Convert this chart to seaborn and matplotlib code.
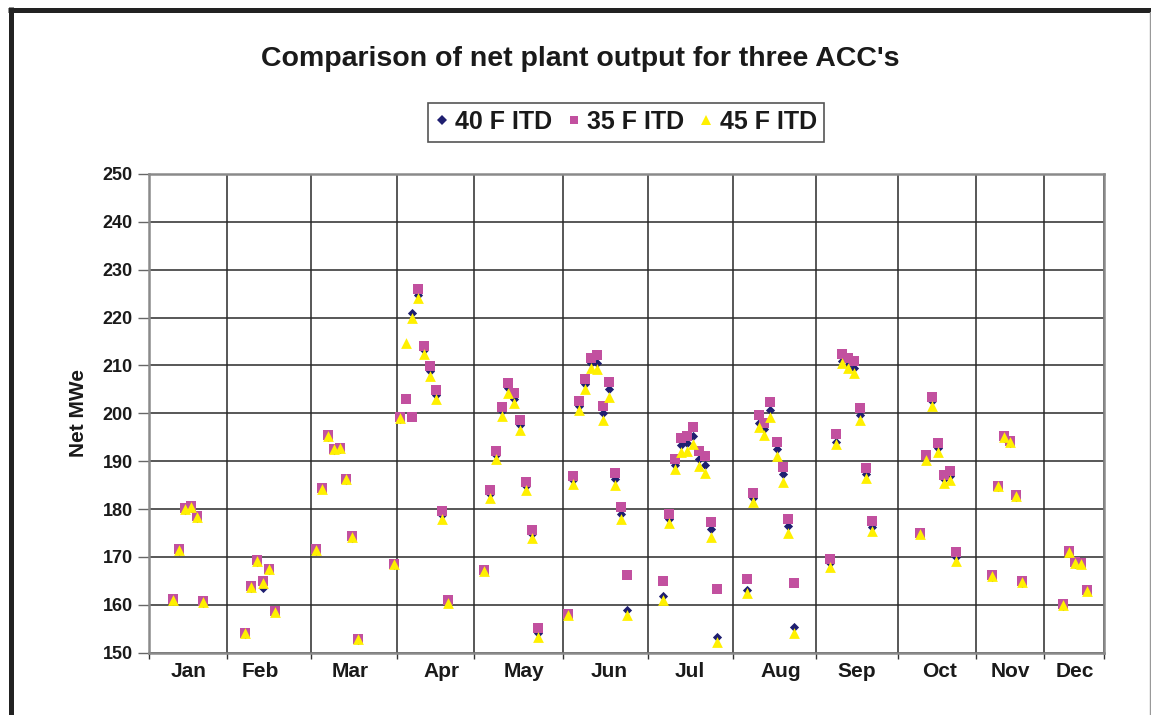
import matplotlib
matplotlib.use("Agg")
import matplotlib.pyplot as plt
import seaborn as sns
import pandas as pd
from matplotlib.lines import Line2D

sns.set_theme(style="white")
plt.rcParams['font.family'] = ['Liberation Sans', 'DejaVu Sans']
plt.rcParams['font.weight'] = 'bold'

# ---------------- data ----------------
title = "Comparison of net plant output for three ACC's"
y_label = "Net MWe"
series_names = ["40 F ITD", "35 F ITD", "45 F ITD"]
months = ["Jan", "Feb", "Mar", "Apr", "May", "Jun",
          "Jul", "Aug", "Sep", "Oct", "Nov", "Dec"]
# month boundaries and label positions, in sample-slot units
month_edges = [0, 13.0, 27.0, 41.2, 54.1, 68.9, 83.1, 97.2, 111.0,
               124.6, 137.6, 148.9, 159.0]
month_label_pos = [6.6, 18.5, 33.4, 48.6, 62.4, 76.5, 90.0, 105.2,
                   117.8, 131.5, 143.3, 154.1]
y_ticks = [150, 160, 170, 180, 190, 200, 210, 220, 230, 240, 250]

sample_pos = [
    4.0, 5.0, 6.0, 7.0, 8.0, 9.0,                               # Jan
    15.9, 16.9, 17.9, 18.9, 19.9, 20.9,                         # Feb
    27.8, 28.8, 29.8, 30.8, 31.8, 32.8, 33.8, 34.8, 40.8,       # Mar
    41.8, 42.8, 43.8, 44.8, 45.8, 46.8, 47.8, 48.8, 49.8,       # Apr
    55.7, 56.7, 57.7, 58.7, 59.7, 60.7, 61.7, 62.7, 63.7, 64.7, # May
    69.7, 70.6, 71.6, 72.6, 73.6, 74.6, 75.6, 76.6, 77.6, 78.6, 79.6,  # Jun
    85.5, 86.5, 87.5, 88.5, 89.5, 90.5, 91.5, 92.5, 93.5, 94.5, # Jul
    99.5, 100.5, 101.5, 102.4, 103.4, 104.5, 105.5, 106.4, 107.4,  # Aug
    113.4, 114.4, 115.3, 116.3, 117.3, 118.3, 119.3, 120.3,     # Sep
    128.3, 129.3, 130.3, 131.3, 132.3, 133.3, 134.3,            # Oct
    140.3, 141.3, 142.3, 143.3, 144.3, 145.3,                   # Nov
    152.1, 153.1, 154.1, 155.1, 156.1,                          # Dec
]

itd40 = [
    160.9, 171.3, 179.9, 180.3, 178.1, 160.3,
    153.9, 163.6, 169.0, 163.6, 167.2, 158.4,
    171.3, 184.1, 195.1, 192.3, 192.5, 186.0, 174.0, 152.6, 168.3,
    198.9, 203.2, 220.9, 224.8, 213.2, 208.9, 203.9, 178.7, 160.6,
    167.0, 183.1, 191.2, 200.4, 205.3, 203.1, 197.5, 184.8, 174.7, 154.2,
    157.9, 186.0, 201.6, 206.1, 210.5, 210.5, 200.1, 205.0, 186.2, 179.0, 158.9,
    161.8, 178.0, 189.2, 193.4, 193.9, 195.3, 190.4, 189.2, 175.8, 153.3,
    163.2, 182.4, 197.9, 196.7, 200.8, 192.5, 187.3, 176.5, 155.4,
    168.8, 194.1, 211.0, 210.1, 209.4, 199.7, 187.3, 176.3,
    174.7, 190.8, 202.5, 192.8, 186.2, 187.0, 170.0,
    165.9, 184.6, 194.9, 193.9, 182.6, 164.6,
    159.8, 170.9, 168.6, 168.5, 162.8,
]

itd35 = [
    161.3, 171.7, 180.3, 180.7, 178.5, 160.7,
    154.2, 163.9, 169.3, 165.0, 167.5, 158.7,
    171.6, 184.4, 195.4, 192.6, 192.8, 186.3, 174.3, 152.9, 168.6,
    199.3, 203.1, 199.3, 226.0, 214.1, 209.9, 204.9, 179.5, 161.0,
    167.2, 184.0, 192.1, 201.4, 206.4, 204.2, 198.6, 185.7, 175.6, 155.1,
    158.1, 186.9, 202.6, 207.2, 211.6, 212.1, 201.6, 206.5, 187.6, 180.4, 166.2,
    165.0, 178.9, 190.5, 194.8, 195.3, 197.2, 192.1, 191.0, 177.4, 163.4,
    165.5, 183.3, 199.7, 197.9, 202.3, 194.1, 188.7, 177.9, 164.6,
    169.5, 195.6, 212.5, 211.6, 210.9, 201.2, 188.6, 177.6,
    175.1, 191.3, 203.5, 193.9, 187.1, 188.0, 171.0,
    166.2, 184.9, 195.2, 194.2, 182.9, 164.9,
    160.1, 171.2, 168.9, 168.8, 163.1,
]

itd45 = [
    161.0, 171.5, 180.1, 180.5, 178.3, 160.5,
    154.1, 163.8, 169.2, 164.6, 167.4, 158.6,
    171.5, 184.3, 195.3, 192.5, 192.7, 186.2, 174.2, 152.8, 168.5,
    199.0, 214.6, 220.0, 224.0, 212.3, 207.9, 202.9, 177.9, 160.3,
    167.0, 182.3, 190.4, 199.5, 204.3, 202.1, 196.5, 184.0, 173.9, 153.3,
    157.8, 185.2, 200.6, 205.1, 209.4, 209.3, 198.6, 203.5, 185.0, 177.9, 157.9,
    161.0, 177.0, 188.3, 192.0, 192.1, 193.6, 188.9, 187.5, 174.2, 152.3,
    162.5, 181.5, 197.2, 195.5, 199.2, 191.0, 185.7, 175.1, 154.2,
    168.0, 193.6, 210.5, 209.4, 208.5, 198.6, 186.4, 175.5,
    174.9, 190.3, 201.6, 192.0, 185.4, 186.1, 169.2,
    166.0, 184.8, 195.0, 194.0, 182.8, 164.8,
    160.0, 171.0, 168.7, 168.6, 162.9,
]

df = pd.DataFrame({"pos": sample_pos,
                   series_names[0]: itd40,
                   series_names[1]: itd35,
                   series_names[2]: itd45})
long = df.melt(id_vars="pos", var_name="series", value_name="mwe")

colors = {"40 F ITD": "#1f1f70", "35 F ITD": "#c2509f", "45 F ITD": "#fff000"}
markers = {"40 F ITD": "D", "35 F ITD": "s", "45 F ITD": "^"}
sizes = {"40 F ITD": 22, "35 F ITD": 44, "45 F ITD": 60}

# ---------------- figure ----------------
W, H = 1151, 715
fig = plt.figure(figsize=(W / 100, H / 100), dpi=100)
fig.patch.set_facecolor("white")
L, R, T, B = 149.3, 1104.3, 174.0, 652.7
ax = fig.add_axes([L / W, 1 - B / H, (R - L) / W, (B - T) / H])

for z, name in enumerate(series_names):
    sub = long[long["series"] == name]
    sns.scatterplot(data=sub, x="pos", y="mwe", marker=markers[name],
                    color=colors[name], s=sizes[name], linewidth=0,
                    ax=ax, legend=False, zorder=3 + z)

ax.set_xlim(month_edges[0], month_edges[-1])
ax.set_ylim(y_ticks[0], y_ticks[-1])
ax.set_xlabel("")
ax.set_ylabel("")

# y axis
ax.set_yticks(y_ticks)
ax.set_yticklabels([str(v) for v in y_ticks], fontsize=13, fontweight="bold",
                   color="#1a1a1a")
ax.tick_params(axis="y", which="major", direction="out", length=8, width=1,
               color="#666666", pad=4, left=True)

# x axis: boundaries as major ticks (gridlines), labels on minor ticks
ax.set_xticks(month_edges)
ax.set_xticklabels([""] * len(month_edges))
ax.set_xticks(month_label_pos, minor=True)
ax.set_xticklabels(months, minor=True, fontsize=15, fontweight="bold",
                   color="#1a1a1a")
ax.tick_params(axis="x", which="major", direction="out", length=4, width=1,
               color="#333333", bottom=True)
ax.tick_params(axis="x", which="minor", length=0, pad=7, bottom=True)

ax.grid(True, which="major", axis="both", color="#2a2a2a", linewidth=1.1)
ax.set_axisbelow(True)
for sp in ax.spines.values():
    sp.set_color("#8a8a8a")
    sp.set_linewidth(1.8)
    sp.set_visible(True)

# title & y label
fig.text(580 / W, 1 - 59 / H, title, ha="center", va="center",
         fontsize=20.5, fontweight="bold", color="#1a1a1a")
fig.text(78 / W, 1 - 413 / H, y_label, ha="center", va="center",
         rotation=90, fontsize=15, fontweight="bold", color="#1a1a1a")

# legend
handles = [Line2D([], [], linestyle="none", marker=markers[n],
                  color=colors[n], markeredgewidth=0,
                  markersize=(sizes[n] ** 0.5) * (0.85 if n != "40 F ITD" else 1.0))
           for n in series_names]
leg = fig.legend(handles, series_names, loc="center",
                 bbox_to_anchor=(626 / W, 1 - 122 / H), ncol=3,
                 frameon=True, fancybox=False, framealpha=1,
                 edgecolor="#555555", handlelength=0.5, handletextpad=0.3,
                 columnspacing=0.6, borderpad=0.3,
                 prop={"size": 18, "weight": "bold"})
leg.get_frame().set_linewidth(1.2)
for t in leg.get_texts():
    t.set_color("#1a1a1a")

# outer frame (thick top and left, thin right)
fig.add_artist(Line2D([8 / W, 1], [1 - 9.8 / H, 1 - 9.8 / H],
                      transform=fig.transFigure, color="#222222", lw=3.6,
                      solid_capstyle="butt"))
fig.add_artist(Line2D([10.5 / W, 10.5 / W], [0, 1 - 7.3 / H],
                      transform=fig.transFigure, color="#222222", lw=3.6,
                      solid_capstyle="butt"))
fig.add_artist(Line2D([1150 / W, 1150 / W], [0, 1 - 12 / H],
                      transform=fig.transFigure, color="#999999", lw=1))

fig.savefig("out.png", dpi=100)
